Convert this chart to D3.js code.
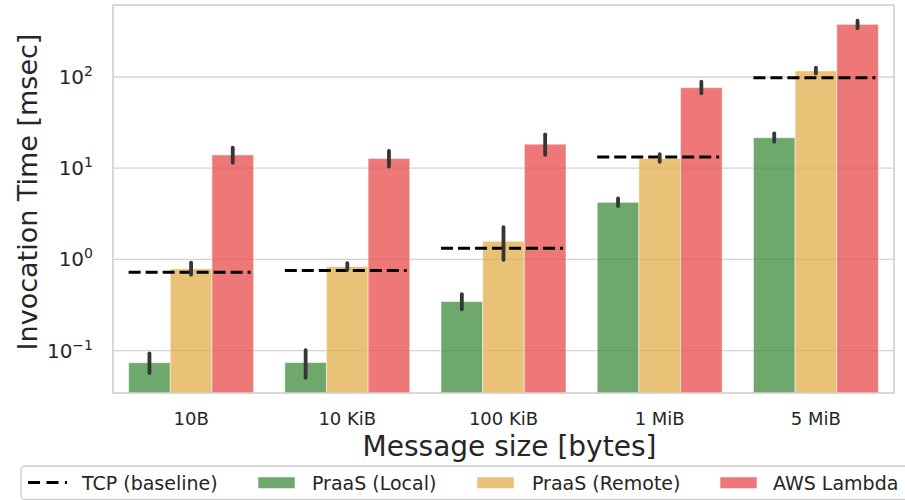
<!DOCTYPE html>
<html>
<head>
<meta charset="utf-8">
<script src="https://cdn.jsdelivr.net/npm/d3@7"></script>
<style>
  html, body { margin: 0; padding: 0; background: #fff; }
  svg { display: block; font-family: "DejaVu Sans", sans-serif; }
</style>
</head>
<body>
<svg id="chart" width="905" height="500"></svg>
<script>
// ---- data ----
const categories = ["10B", "10 KiB", "100 KiB", "1 MiB", "5 MiB"];
const seriesNames = ["PraaS (Local)", "PraaS (Remote)", "AWS Lambda"];
const localMean = [0.0726, 0.073, 0.34, 4.17, 21.3];
const localLo   = [0.056, 0.0497, 0.28, 3.8, 19.3];
const localHi   = [0.092, 0.10, 0.41, 4.6, 23.8];
const remoteMean = [0.777, 0.824, 1.56, 12.6, 115];
const remoteLo   = [0.67, 0.76, 0.975, 11.6, 108];
const remoteHi   = [0.91, 0.90, 2.22, 14.1, 125];
const lambdaMean = [13.8, 12.6, 18.1, 75.4, 373];
const lambdaLo   = [11.3, 10.3, 13.8, 65.5, 337];
const lambdaHi   = [16.6, 15.3, 23.2, 87.7, 409];
const tcpBaseline = [0.713, 0.745, 1.31, 13.1, 97];
const yTickValues = [0.1, 1, 10, 100];
const yTickExponents = ["\u22121", "0", "1", "2"];

const colors = ["rgb(63,139,60)", "rgb(226,174,74)", "rgb(232,75,75)"];
const barOpacity = 0.75;

const series = [
  {name: seriesNames[0], mean: localMean, lo: localLo, hi: localHi, color: colors[0]},
  {name: seriesNames[1], mean: remoteMean, lo: remoteLo, hi: remoteHi, color: colors[1]},
  {name: seriesNames[2], mean: lambdaMean, lo: lambdaLo, hi: lambdaHi, color: colors[2]}
];

// ---- layout ----
const svg = d3.select("#chart");
const L = 113, R = 894, T = 5, B = 393;

const x = d3.scaleBand().domain(categories).range([L, R]).padding(0);
const inner = d3.scaleBand().domain(d3.range(series.length))
  .range([0, x.bandwidth() * 0.8]).padding(0);
const y = d3.scaleLog().domain([0.0338, 608]).range([B, T]);

// grid via y axis
const yAxis = d3.axisLeft(y).tickValues(yTickValues).tickSize(-(R - L)).tickFormat(() => "");
const gy = svg.append("g").attr("transform", `translate(${L},0)`).call(yAxis);
gy.select(".domain").remove();
gy.selectAll(".tick line").attr("stroke", "#d4d4d4").attr("stroke-width", 1.3);

// y tick labels (10^n)
gy.selectAll(".tick").each(function(d, i) {
  const t = d3.select(this).select("text")
    .attr("x", -20).attr("dy", null).attr("y", 7)
    .attr("text-anchor", "end").attr("fill", "#262626")
    .style("font-size", "20px").style("font-family", "DejaVu Sans");
  t.text(null);
  t.append("tspan").text("10");
  t.append("tspan").attr("dy", -8).style("font-size", "14px").text(yTickExponents[i]);
});

// bars
const groups = svg.append("g").selectAll("g.cat").data(categories).join("g")
  .attr("class", "cat")
  .attr("transform", c => `translate(${x(c) + x.bandwidth() * 0.1},0)`);

series.forEach((s, si) => {
  groups.append("rect")
    .attr("x", inner(si))
    .attr("width", inner.bandwidth())
    .attr("y", (c, ci) => y(s.mean[ci]))
    .attr("height", (c, ci) => B - y(s.mean[ci]))
    .attr("fill", s.color)
    .attr("fill-opacity", barOpacity)
    .attr("stroke", "#ffffff")
    .attr("stroke-opacity", 0.5)
    .attr("stroke-width", 1);
});

// TCP baseline dashed lines
groups.append("line")
  .attr("x1", 0)
  .attr("x2", x.bandwidth() * 0.8 - 3)
  .attr("y1", (c, ci) => y(tcpBaseline[ci]))
  .attr("y2", (c, ci) => y(tcpBaseline[ci]))
  .attr("stroke", "#000")
  .attr("stroke-width", 3)
  .attr("stroke-dasharray", "12,5");

// error bars
series.forEach((s, si) => {
  groups.append("line")
    .attr("x1", inner(si) + inner.bandwidth() / 2)
    .attr("x2", inner(si) + inner.bandwidth() / 2)
    .attr("y1", (c, ci) => y(s.lo[ci]))
    .attr("y2", (c, ci) => y(s.hi[ci]))
    .attr("stroke", "#363636")
    .attr("stroke-width", 3.8)
    .attr("stroke-linecap", "round");
});

// x axis labels
const xAxis = d3.axisBottom(x).tickSize(0).tickPadding(0);
const gx = svg.append("g").attr("transform", `translate(0,${B})`).call(xAxis);
gx.select(".domain").remove();
gx.selectAll(".tick text")
  .attr("y", 32).attr("dy", null)
  .attr("fill", "#262626")
  .style("font-size", "18px").style("font-family", "DejaVu Sans");

// frame
svg.append("rect")
  .attr("x", L).attr("y", T).attr("width", R - L).attr("height", B - T)
  .attr("fill", "none").attr("stroke", "#cccccc").attr("stroke-width", 1.5);

// axis titles
svg.append("text")
  .attr("x", (L + R) / 2 + 6).attr("y", 456)
  .attr("text-anchor", "middle").attr("fill", "#262626")
  .style("font-size", "28px")
  .text("Message size [bytes]");

svg.append("text")
  .attr("transform", `translate(37,${192}) rotate(-90)`)
  .attr("text-anchor", "middle").attr("fill", "#262626")
  .style("font-size", "27px")
  .text("Invocation Time [msec]");

// legend
const lg = svg.append("g");
lg.append("rect")
  .attr("x", 21).attr("y", 466).attr("width", 900).attr("height", 33.5)
  .attr("rx", 4).attr("fill", "#fff").attr("stroke", "#cccccc").attr("stroke-width", 1.3);

lg.append("line")
  .attr("x1", 28).attr("x2", 67).attr("y1", 482.5).attr("y2", 482.5)
  .attr("stroke", "#000").attr("stroke-width", 3).attr("stroke-dasharray", "12,6.5");

const legendItems = [
  {kind: "line", label: "TCP (baseline)", tx: 82},
  {kind: "patch", label: seriesNames[0], color: colors[0], px: 258, tx: 312},
  {kind: "patch", label: seriesNames[1], color: colors[1], px: 477, tx: 532},
  {kind: "patch", label: seriesNames[2], color: colors[2], px: 720, tx: 773}
];
legendItems.forEach(it => {
  if (it.kind === "patch") {
    lg.append("rect")
      .attr("x", it.px).attr("y", 477).attr("width", 37).attr("height", 11.5)
      .attr("fill", it.color).attr("fill-opacity", barOpacity)
      .attr("stroke", "#fff").attr("stroke-opacity", 0.5);
  }
  lg.append("text")
    .attr("x", it.tx).attr("y", 489.5)
    .attr("fill", "#262626")
    .style("font-size", "19px")
    .text(it.label);
});
</script>
</body>
</html>
